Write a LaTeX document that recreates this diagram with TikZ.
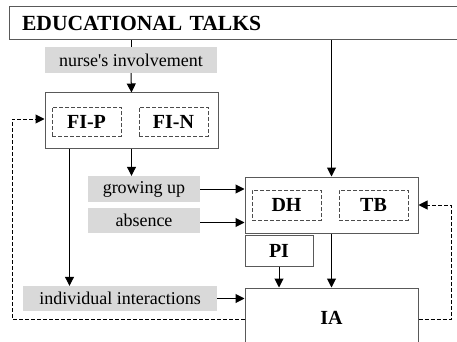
\documentclass[tikz,border=0pt]{standalone}
\usepackage{fontspec}
\setmainfont{Liberation Serif}
\usetikzlibrary{arrows.meta}
\begin{document}
\begin{tikzpicture}[x=1pt,y=-1pt,
  box/.style={draw=black!65, line width=1pt, inner sep=0pt, fill=white},
  dbox/.style={draw=black!70, line width=0.9pt, dash pattern=on 4pt off 2pt, inner sep=0pt, font=\fontsize{20}{22}\selectfont\bfseries},
  gbox/.style={fill=black!15, inner sep=0pt, font=\fontsize{18}{20}\selectfont},
  arr/.style={line width=1pt, -{Triangle[length=9pt,width=9pt]}},
  ln/.style={line width=1pt},
  darr/.style={line width=1pt, dash pattern=on 4pt off 2pt, -{Triangle[length=9pt,width=9pt]}}
]
\useasboundingbox (0,0) rectangle (457,342);
\node[box, minimum width=461pt, minimum height=33pt, text width=435pt, inner xsep=13pt, align=left,
      font=\fontsize{21.6}{23}\selectfont\bfseries] (top) at (239.5,23.5) {EDUCATIONAL TALKS};
\node[gbox, minimum width=172pt, minimum height=26pt] (nurse) at (131,60) {nurse\textquotesingle s involvement};
\node[box, minimum width=173pt, minimum height=55pt] (fi) at (131.5,120.5) {};
\node[dbox, minimum width=69pt, minimum height=29pt] (fip) at (86.5,121.5) {FI-P};
\node[dbox, minimum width=69pt, minimum height=29pt] (fin) at (173.5,121.5) {FI-N};
\node[gbox, minimum width=112pt, minimum height=26pt] (grow) at (144,189) {growing up};
\node[gbox, minimum width=112pt, minimum height=25pt] (absence) at (144,220.5) {absence};
\node[box, minimum width=173pt, minimum height=56pt] (dhtb) at (331.5,205) {};
\node[dbox, minimum width=69pt, minimum height=30pt] (dh) at (286.5,205) {DH};
\node[dbox, minimum width=69pt, minimum height=30pt] (tb) at (373.5,205) {TB};
\node[box, minimum width=68pt, minimum height=31pt, font=\fontsize{20}{22}\selectfont\bfseries] (pi) at (279,250.5) {PI};
\node[box, minimum width=173pt, minimum height=60pt, font=\fontsize{20}{22}\selectfont\bfseries] (ia) at (331.5,318) {IA};
\node[gbox, minimum width=194pt, minimum height=25pt] (indiv) at (120,298.5) {individual interactions};
\coordinate (lx) at (12,318);
\coordinate (rx) at (451,318);

\draw[ln] (nurse.north |- top.south) -- (nurse.north);
\draw[arr] (nurse.south) -- (fi.north);
\draw[arr] (dhtb.north |- top.south) -- (dhtb.north);
\draw[arr] (fi.south) -- (fi.south |- grow.north);
\draw[arr] (grow.east) -- (grow.east -| dhtb.west);
\draw[arr] ([yshift=-2pt]absence.east) -- ([yshift=-2pt]absence.east -| dhtb.west);
\draw[arr] (pi.south) -- (pi.south |- ia.north);
\draw[arr] (dhtb.south) -- (ia.north);
\draw[arr] ([xshift=25pt]fi.south west) -- ([xshift=25pt]fi.south west |- indiv.north);
\draw[arr] (indiv.east) -- (indiv.east -| ia.west);
\draw[darr] ([yshift=-1pt]ia.west) -- ([yshift=-1pt]ia.west -| lx) |- ([yshift=1.5pt]fi.west);
\draw[darr] ([yshift=-1pt]ia.east) -- ([yshift=-1pt]ia.east -| rx) |- (dhtb.east);
\end{tikzpicture}
\end{document}
